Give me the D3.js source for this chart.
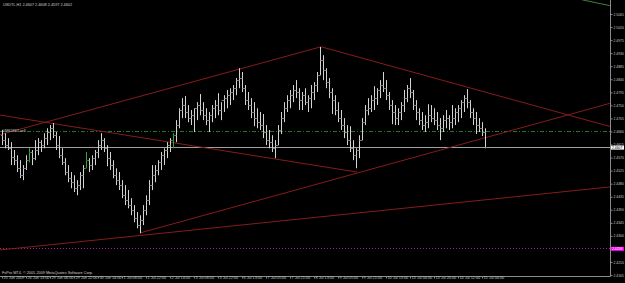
<!DOCTYPE html>
<html>
<head>
<meta charset="utf-8">
<script src="https://cdnjs.cloudflare.com/ajax/libs/d3/7.8.5/d3.min.js"></script>
<style>
  body { margin: 0; background: #000; }
  svg { display: block; }
</style>
</head>
<body>
<main></main>
<script>
const symbolTitle = "USDTL,H1  2.4607 2.4608 2.4597 2.4602";
const copyright = "FxPro MT4, \u00a9 2001-2009 MetaQuotes Software Corp.";

const timeLabels = [
  "25 Jun 2009", "26 Jun 13:00", "29 Jun 06:00", "29 Jun 22:00", "30 Jun 14:00",
  "1 Jul 06:00", "1 Jul 22:00", "2 Jul 14:00", "3 Jul 06:00", "3 Jul 22:00",
  "6 Jul 13:00", "7 Jul 05:00", "7 Jul 21:00", "8 Jul 13:00", "9 Jul 05:00",
  "9 Jul 21:00", "10 Jul 13:00", "13 Jul 04:00", "13 Jul 20:00", "14 Jul 12:00",
  "15 Jul 04:00"
];

const priceTicks = [
  2.5065, 2.5020, 2.4975, 2.4930, 2.4885, 2.4840, 2.4795, 2.4750, 2.4705, 2.4660,
  2.4615, 2.4570, 2.4525, 2.4480, 2.4435, 2.4390, 2.4345, 2.4300, 2.4255, 2.4210,
  2.4165
];

// OHLC bars
const highs = [
  2.4665, 2.4654, 2.4637, 2.4623, 2.4596, 2.4578, 2.4561, 2.4544, 2.4578, 2.4602,
  2.4596, 2.4630, 2.4637, 2.4630, 2.4654, 2.4671, 2.4682, 2.4689, 2.4658, 2.4644,
  2.4602, 2.4568, 2.4544, 2.4520, 2.4509, 2.4492, 2.4520, 2.4544, 2.4589, 2.4568,
  2.4578, 2.4596, 2.4630, 2.4654, 2.4637, 2.4613, 2.4589, 2.4561, 2.4533, 2.4520,
  2.4492, 2.4475, 2.4458, 2.4430, 2.4406, 2.4382, 2.4371, 2.4406, 2.4440, 2.4492,
  2.4544, 2.4544, 2.4561, 2.4589, 2.4602, 2.4623, 2.4637, 2.4654, 2.4699, 2.4740,
  2.4775, 2.4782, 2.4751, 2.4734, 2.4740, 2.4761, 2.4789, 2.4761, 2.4740, 2.4727,
  2.4751, 2.4768, 2.4792, 2.4761, 2.4785, 2.4803, 2.4809, 2.4820, 2.4844, 2.4878,
  2.4865, 2.4820, 2.4796, 2.4775, 2.4761, 2.4740, 2.4727, 2.4720, 2.4682, 2.4665,
  2.4647, 2.4630, 2.4682, 2.4727, 2.4761, 2.4785, 2.4803, 2.4820, 2.4837, 2.4809,
  2.4796, 2.4809, 2.4785, 2.4820, 2.4830, 2.4865, 2.4951, 2.4923, 2.4878, 2.4844,
  2.4809, 2.4785, 2.4761, 2.4734, 2.4706, 2.4682, 2.4678, 2.4630, 2.4602, 2.4647,
  2.4706, 2.4751, 2.4775, 2.4785, 2.4816, 2.4809, 2.4837, 2.4865, 2.4837, 2.4796,
  2.4768, 2.4751, 2.4740, 2.4761, 2.4803, 2.4820, 2.4844, 2.4803, 2.4768, 2.4740,
  2.4727, 2.4716, 2.4754, 2.4751, 2.4740, 2.4727, 2.4706, 2.4716, 2.4734, 2.4716,
  2.4751, 2.4740, 2.4751, 2.4768, 2.4785, 2.4806, 2.4768, 2.4740, 2.4727, 2.4706,
  2.4692, 2.4671
];
const lows = [
  2.4613, 2.4602, 2.4596, 2.4544, 2.4544, 2.4520, 2.4499, 2.4492, 2.4527, 2.4554,
  2.4544, 2.4561, 2.4578, 2.4589, 2.4602, 2.4613, 2.4630, 2.4637, 2.4596, 2.4568,
  2.4544, 2.4509, 2.4485, 2.4464, 2.4451, 2.4440, 2.4458, 2.4464, 2.4533, 2.4520,
  2.4527, 2.4544, 2.4568, 2.4596, 2.4589, 2.4540, 2.4527, 2.4499, 2.4475, 2.4458,
  2.4430, 2.4406, 2.4395, 2.4371, 2.4347, 2.4326, 2.4309, 2.4337, 2.4371, 2.4406,
  2.4458, 2.4485, 2.4509, 2.4527, 2.4544, 2.4568, 2.4589, 2.4602, 2.4623, 2.4671,
  2.4706, 2.4706, 2.4692, 2.4682, 2.4658, 2.4699, 2.4716, 2.4699, 2.4682, 2.4658,
  2.4692, 2.4706, 2.4716, 2.4699, 2.4727, 2.4740, 2.4751, 2.4768, 2.4785, 2.4809,
  2.4796, 2.4751, 2.4734, 2.4706, 2.4678, 2.4671, 2.4665, 2.4637, 2.4613, 2.4602,
  2.4589, 2.4568, 2.4613, 2.4651, 2.4692, 2.4727, 2.4740, 2.4761, 2.4775, 2.4734,
  2.4734, 2.4751, 2.4727, 2.4740, 2.4768, 2.4796, 2.4854, 2.4837, 2.4809, 2.4775,
  2.4720, 2.4716, 2.4692, 2.4665, 2.4637, 2.4613, 2.4589, 2.4561, 2.4533, 2.4568,
  2.4630, 2.4682, 2.4716, 2.4727, 2.4734, 2.4751, 2.4775, 2.4796, 2.4768, 2.4734,
  2.4685, 2.4682, 2.4682, 2.4699, 2.4727, 2.4761, 2.4775, 2.4734, 2.4699, 2.4682,
  2.4665, 2.4658, 2.4671, 2.4692, 2.4682, 2.4665, 2.4630, 2.4658, 2.4671, 2.4665,
  2.4671, 2.4682, 2.4692, 2.4706, 2.4727, 2.4740, 2.4706, 2.4682, 2.4651, 2.4658,
  2.4644, 2.4602
];
const closes = [
  2.4630, 2.4613, 2.4602, 2.4571, 2.4561, 2.4533, 2.4509, 2.4533, 2.4561, 2.4589,
  2.4568, 2.4596, 2.4623, 2.4613, 2.4637, 2.4658, 2.4671, 2.4647, 2.4613, 2.4578,
  2.4554, 2.4520, 2.4499, 2.4485, 2.4464, 2.4475, 2.4509, 2.4533, 2.4561, 2.4544,
  2.4568, 2.4589, 2.4613, 2.4630, 2.4602, 2.4568, 2.4544, 2.4509, 2.4492, 2.4475,
  2.4440, 2.4423, 2.4406, 2.4389, 2.4361, 2.4337, 2.4354, 2.4389, 2.4423, 2.4475,
  2.4509, 2.4527, 2.4554, 2.4578, 2.4596, 2.4613, 2.4630, 2.4647, 2.4682, 2.4734,
  2.4751, 2.4727, 2.4706, 2.4716, 2.4740, 2.4751, 2.4734, 2.4716, 2.4699, 2.4716,
  2.4740, 2.4751, 2.4734, 2.4768, 2.4775, 2.4785, 2.4796, 2.4809, 2.4837, 2.4844,
  2.4809, 2.4768, 2.4751, 2.4727, 2.4706, 2.4692, 2.4682, 2.4658, 2.4630, 2.4623,
  2.4602, 2.4613, 2.4665, 2.4706, 2.4740, 2.4768, 2.4785, 2.4803, 2.4796, 2.4768,
  2.4785, 2.4761, 2.4775, 2.4796, 2.4820, 2.4854, 2.4906, 2.4872, 2.4830, 2.4796,
  2.4768, 2.4734, 2.4706, 2.4682, 2.4658, 2.4630, 2.4602, 2.4578, 2.4596, 2.4630,
  2.4692, 2.4734, 2.4740, 2.4768, 2.4775, 2.4803, 2.4820, 2.4809, 2.4785, 2.4751,
  2.4727, 2.4706, 2.4727, 2.4751, 2.4775, 2.4809, 2.4796, 2.4751, 2.4727, 2.4699,
  2.4682, 2.4692, 2.4716, 2.4706, 2.4699, 2.4682, 2.4671, 2.4699, 2.4706, 2.4692,
  2.4706, 2.4727, 2.4740, 2.4761, 2.4775, 2.4761, 2.4727, 2.4706, 2.4682, 2.4671,
  2.4658, 2.4606
];
const opens = [
  2.4647, 2.4630, 2.4613, 2.4602, 2.4571, 2.4561, 2.4533, 2.4509, 2.4533, 2.4561,
  2.4589, 2.4568, 2.4596, 2.4623, 2.4613, 2.4637, 2.4658, 2.4671, 2.4647, 2.4613,
  2.4578, 2.4554, 2.4520, 2.4499, 2.4485, 2.4464, 2.4475, 2.4509, 2.4533, 2.4561,
  2.4544, 2.4568, 2.4589, 2.4613, 2.4630, 2.4602, 2.4568, 2.4544, 2.4509, 2.4492,
  2.4475, 2.4440, 2.4423, 2.4406, 2.4389, 2.4361, 2.4337, 2.4354, 2.4389, 2.4423,
  2.4475, 2.4509, 2.4527, 2.4554, 2.4578, 2.4596, 2.4613, 2.4630, 2.4647, 2.4682,
  2.4734, 2.4751, 2.4727, 2.4706, 2.4716, 2.4740, 2.4751, 2.4734, 2.4716, 2.4699,
  2.4716, 2.4740, 2.4751, 2.4734, 2.4768, 2.4775, 2.4785, 2.4796, 2.4809, 2.4837,
  2.4844, 2.4809, 2.4768, 2.4751, 2.4727, 2.4706, 2.4692, 2.4682, 2.4658, 2.4630,
  2.4623, 2.4602, 2.4613, 2.4665, 2.4706, 2.4740, 2.4768, 2.4785, 2.4803, 2.4796,
  2.4768, 2.4785, 2.4761, 2.4775, 2.4796, 2.4820, 2.4854, 2.4906, 2.4872, 2.4830,
  2.4796, 2.4768, 2.4734, 2.4706, 2.4682, 2.4658, 2.4630, 2.4602, 2.4578, 2.4596,
  2.4630, 2.4692, 2.4734, 2.4740, 2.4768, 2.4775, 2.4803, 2.4820, 2.4809, 2.4785,
  2.4751, 2.4727, 2.4706, 2.4727, 2.4751, 2.4775, 2.4809, 2.4796, 2.4751, 2.4727,
  2.4699, 2.4682, 2.4692, 2.4716, 2.4706, 2.4699, 2.4682, 2.4671, 2.4699, 2.4706,
  2.4692, 2.4706, 2.4727, 2.4740, 2.4761, 2.4775, 2.4761, 2.4727, 2.4706, 2.4682,
  2.4671, 2.4658
];
const greenBars = [9, 28, 57];
const hoursPerBar = 2;

const bidPrice = 2.4607;
const orderPrice = 2.4662;
const orderLabel = "#4865867 sell";
const alertPrice = 2.4258;
const alertLabel = "2.4258";

// trend lines: [hour1, price1, hour2, price2]
const redLines = [
  [-2, 2.4648, 212.7, 2.4952],
  [212.7, 2.4952, 406, 2.4676],
  [-2, 2.4717, 236.7, 2.4520],
  [92, 2.4310, 406, 2.4758],
  [-2, 2.4251, 406, 2.4469]
];
const greenLine = [386.7, 2.5114, 406, 2.5093];

const W = 625, H = 283;
const plotRight = 610, plotBottom = 276;
const font = "'Liberation Sans', Arial, sans-serif";

const x = d3.scaleLinear().domain([0, 320]).range([2, 482]);
const y = d3.scaleLinear().domain([2.4165, 2.5065]).range([275, 14]);

const svg = d3.select("main").append("svg")
  .attr("width", W).attr("height", H)
  .style("background", "#000")
  .style("font-family", font);

svg.append("clipPath").attr("id", "plot")
  .append("rect").attr("x", 0).attr("y", 0)
  .attr("width", plotRight).attr("height", plotBottom);

const plot = svg.append("g").attr("clip-path", "url(#plot)");

// horizontal level lines
plot.append("line")
  .attr("x1", 0).attr("x2", plotRight)
  .attr("y1", Math.round(y(orderPrice)) + 0.5).attr("y2", Math.round(y(orderPrice)) + 0.5)
  .attr("stroke", "#1f7a1f").attr("stroke-width", 1)
  .attr("stroke-dasharray", "4,2,1,2");
plot.append("line")
  .attr("x1", 0).attr("x2", plotRight)
  .attr("y1", Math.round(y(alertPrice)) + 0.5).attr("y2", Math.round(y(alertPrice)) + 0.5)
  .attr("stroke", "#a020a0").attr("stroke-width", 1)
  .attr("stroke-dasharray", "1,2");
plot.append("line")
  .attr("x1", 0).attr("x2", plotRight)
  .attr("y1", Math.round(y(bidPrice)) + 0.5).attr("y2", Math.round(y(bidPrice)) + 0.5)
  .attr("stroke", "#a0a0a0").attr("stroke-width", 1);

// trend lines
plot.selectAll("line.trend")
  .data(redLines)
  .enter()
  .append("line")
  .attr("class", "trend")
  .attr("x1", d => x(d[0])).attr("y1", d => y(d[1]))
  .attr("x2", d => x(d[2])).attr("y2", d => y(d[3]))
  .attr("stroke", "#861c1c").attr("stroke-width", 1);
plot.append("line")
  .attr("x1", x(greenLine[0])).attr("y1", y(greenLine[1]))
  .attr("x2", x(greenLine[2])).attr("y2", y(greenLine[3]))
  .attr("stroke", "#3f7f3f").attr("stroke-width", 1);

// bars
const bars = plot.selectAll("g.bar")
  .data(highs.map((h, i) => ({ i, h, l: lows[i], o: opens[i], c: closes[i] })))
  .enter()
  .append("g")
  .attr("class", "bar")
  .attr("transform", d => `translate(${Math.round(x(d.i * hoursPerBar)) + 0.5},0)`);

const barColor = d => greenBars.includes(d.i) ? "#2fa82f" : "#d4d4d4";
const tickColor = d => greenBars.includes(d.i) ? "#1d6a1d" : "#7a7a7a";

bars.append("line")
  .attr("y1", d => y(d.h)).attr("y2", d => y(d.l))
  .attr("stroke", barColor).attr("stroke-width", 1);
bars.append("line")
  .attr("x1", -1.5).attr("x2", 0)
  .attr("y1", d => Math.round(y(d.o)) + 0.5).attr("y2", d => Math.round(y(d.o)) + 0.5)
  .attr("stroke", tickColor).attr("stroke-width", 1);
bars.append("line")
  .attr("x1", 0).attr("x2", 1.5)
  .attr("y1", d => Math.round(y(d.c)) + 0.5).attr("y2", d => Math.round(y(d.c)) + 0.5)
  .attr("stroke", tickColor).attr("stroke-width", 1);

// order label
plot.append("text")
  .attr("x", 2).attr("y", y(orderPrice) + 1)
  .style("font-size", "3.8px").attr("fill", "#d0d0d0")
  .text(orderLabel);

// title + copyright
svg.append("text").attr("x", 3).attr("y", 6)
  .style("font-size", "3.8px").attr("fill", "#d0d0d0").text(symbolTitle);
svg.append("text").attr("x", 2).attr("y", 274)
  .style("font-size", "3.8px").attr("fill", "#d0d0d0").text(copyright);

// axes frame
svg.append("line").attr("x1", plotRight + 0.5).attr("x2", plotRight + 0.5)
  .attr("y1", 0).attr("y2", plotBottom + 0.5).attr("stroke", "#8a8a8a");
svg.append("line").attr("x1", 0).attr("x2", plotRight + 0.5)
  .attr("y1", plotBottom + 0.5).attr("y2", plotBottom + 0.5).attr("stroke", "#8a8a8a");

// price axis
const yAxis = svg.append("g").attr("transform", `translate(${plotRight + 0.5},0)`)
  .call(d3.axisRight(y).tickValues(priceTicks).tickFormat(d3.format(".4f")).tickSize(2).tickPadding(1));
yAxis.select(".domain").remove();
yAxis.selectAll("line").attr("stroke", "#8a8a8a");
yAxis.selectAll("text").attr("fill", "#c8c8c8").style("font-size", "3.4px")
  .style("font-family", font);

// price boxes
const boxes = [
  { p: bidPrice, label: bidPrice.toFixed(4), fill: "#ffffff", color: "#000" },
  { p: alertPrice, label: alertLabel, fill: "#ff00ff", color: "#ffffff" }
];
boxes.forEach(b => {
  svg.append("rect").attr("x", plotRight + 1).attr("y", y(b.p) - 1.2)
    .attr("width", 13).attr("height", 4).attr("fill", b.fill);
  svg.append("text").attr("x", plotRight + 2).attr("y", y(b.p) + 2)
    .style("font-size", "3.4px").attr("fill", b.color).text(b.label);
});

// time axis
const xAxis = svg.append("g").attr("transform", `translate(0,${plotBottom + 0.5})`)
  .call(d3.axisBottom(x).tickValues(d3.range(timeLabels.length).map(k => k * 16))
    .tickFormat((d, k) => timeLabels[k]).tickSize(2).tickPadding(1));
xAxis.select(".domain").remove();
xAxis.selectAll("line").attr("stroke", "#8a8a8a");
xAxis.selectAll("text").attr("fill", "#c8c8c8").style("font-size", "3.8px")
  .attr("text-anchor", "start").attr("dx", 1).attr("dy", "-0.1em")
  .style("font-family", font);
</script>
</body>
</html>
